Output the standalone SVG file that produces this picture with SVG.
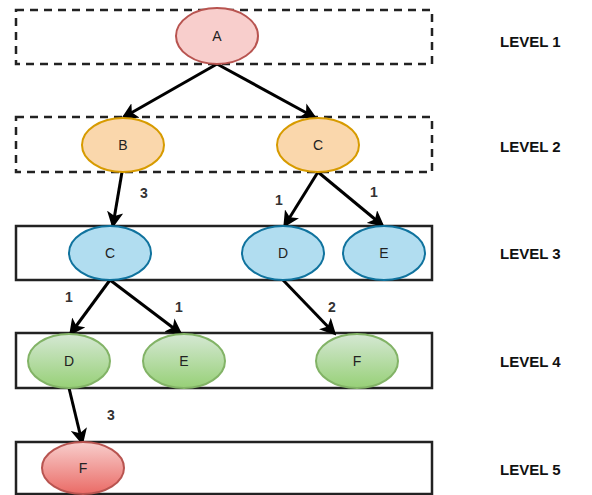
<svg xmlns="http://www.w3.org/2000/svg" width="592" height="495" viewBox="0 0 592 495">
  <style>
    .lvl { fill: #ffffff; stroke: #222222; stroke-width: 2.5; }
    .dash { stroke-dasharray: 8 6; }
    .node text { font-family: "Liberation Sans", Arial, sans-serif; font-size: 14px; fill: #222222; text-anchor: middle; }
    .lbl { font-family: "Liberation Sans", Arial, sans-serif; font-size: 14px; font-weight: bold; fill: #333333; text-anchor: middle; }
    .lvltxt { font-family: "Liberation Sans", Arial, sans-serif; font-size: 15px; font-weight: bold; fill: #111111; }
    .edge { stroke: #000000; stroke-width: 3; fill: none; marker-end: url(#head); }
    .red { fill: #f8cecc; stroke: #b85450; stroke-width: 2; }
    .orange { fill: #fad7ac; stroke: #d79b00; stroke-width: 2; }
    .blue { fill: #b1ddf0; stroke: #10739e; stroke-width: 2; }
    .green { fill: url(#gGreen); stroke: #82b366; stroke-width: 2; }
    .redg { fill: url(#gRed); stroke: #b85450; stroke-width: 2; }
  </style>
  <defs>
    <marker id="head" viewBox="0 0 10 10" refX="8" refY="5" markerWidth="5.5" markerHeight="5.5" orient="auto" markerUnits="strokeWidth">
      <path d="M0,0 L10,5 L0,10 L2.5,5 Z" fill="#000000"/>
    </marker>
    <linearGradient id="gGreen" x1="0" y1="0" x2="0" y2="1">
      <stop offset="0" stop-color="#d5e8d4"/>
      <stop offset="1" stop-color="#97d077"/>
    </linearGradient>
    <linearGradient id="gRed" x1="0" y1="0" x2="0" y2="1">
      <stop offset="0" stop-color="#f8cecc"/>
      <stop offset="1" stop-color="#ea6b66"/>
    </linearGradient>
  </defs>

  <!-- level bands -->
  <g id="bands">
    <rect class="lvl dash" x="16" y="10" width="416" height="54"/>
    <rect class="lvl dash" x="16" y="117" width="416" height="55"/>
    <rect class="lvl" x="16" y="226" width="416" height="54"/>
    <rect class="lvl" x="16" y="333" width="416" height="55"/>
    <rect class="lvl" x="16" y="442" width="416" height="52"/>
  </g>

  <!-- connectors -->
  <g id="edges">
    <line class="edge" x1="217" y1="64" x2="124" y2="117"/>
    <line class="edge" x1="217" y1="64" x2="314" y2="117"/>
    <line class="edge" x1="122" y1="172" x2="113" y2="225"/>
    <line class="edge" x1="318" y1="172" x2="285" y2="225"/>
    <line class="edge" x1="318" y1="172" x2="382" y2="225"/>
    <line class="edge" x1="110" y1="280" x2="71" y2="333"/>
    <line class="edge" x1="110" y1="280" x2="180" y2="333"/>
    <line class="edge" x1="283" y1="280" x2="334" y2="333"/>
    <line class="edge" x1="69" y1="388" x2="82" y2="442"/>
  </g>

  <!-- edge weights -->
  <g id="weights">
    <text class="lbl" x="144" y="198">3</text>
    <text class="lbl" x="279" y="205">1</text>
    <text class="lbl" x="374" y="197">1</text>
    <text class="lbl" x="69" y="302">1</text>
    <text class="lbl" x="179" y="312">1</text>
    <text class="lbl" x="332" y="312">2</text>
    <text class="lbl" x="111" y="420">3</text>
  </g>

  <!-- nodes -->
  <g id="n-A" class="node"><ellipse class="red" cx="217" cy="36" rx="41" ry="28"/><text x="217" y="41">A</text></g>
  <g id="n-B" class="node"><ellipse class="orange" cx="123" cy="145" rx="41" ry="27"/><text x="123" y="150">B</text></g>
  <g id="n-C2" class="node"><ellipse class="orange" cx="318" cy="145" rx="41" ry="27"/><text x="318" y="150">C</text></g>
  <g id="n-C3" class="node"><ellipse class="blue" cx="110" cy="253" rx="41" ry="27"/><text x="110" y="258">C</text></g>
  <g id="n-D3" class="node"><ellipse class="blue" cx="283" cy="253" rx="41" ry="27"/><text x="283" y="258">D</text></g>
  <g id="n-E3" class="node"><ellipse class="blue" cx="384" cy="253" rx="41" ry="27"/><text x="384" y="258">E</text></g>
  <g id="n-D4" class="node"><ellipse class="green" cx="69" cy="361" rx="41" ry="27"/><text x="69" y="366">D</text></g>
  <g id="n-E4" class="node"><ellipse class="green" cx="184" cy="361" rx="41" ry="27"/><text x="184" y="366">E</text></g>
  <g id="n-F4" class="node"><ellipse class="green" cx="357" cy="361" rx="41" ry="27"/><text x="357" y="366">F</text></g>
  <g id="n-F5" class="node"><ellipse class="redg" cx="83" cy="468" rx="41" ry="26"/><text x="83" y="473">F</text></g>

  <!-- level captions -->
  <g id="captions">
    <text class="lvltxt" x="500" y="47">LEVEL 1</text>
    <text class="lvltxt" x="500" y="152">LEVEL 2</text>
    <text class="lvltxt" x="500" y="259">LEVEL 3</text>
    <text class="lvltxt" x="500" y="367">LEVEL 4</text>
    <text class="lvltxt" x="500" y="475">LEVEL 5</text>
  </g>
</svg>
